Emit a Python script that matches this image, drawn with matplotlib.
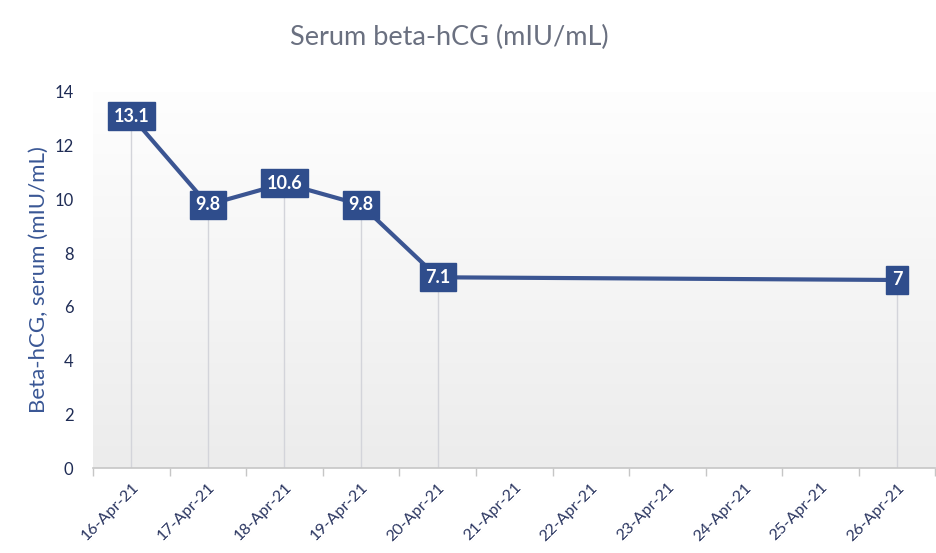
import numpy as np
import matplotlib
matplotlib.use('Agg')
import matplotlib.pyplot as plt

plt.rcParams['font.family'] = ['Lato', 'DejaVu Sans']

dates = ['16-Apr-21', '17-Apr-21', '18-Apr-21', '19-Apr-21', '20-Apr-21', '21-Apr-21',
         '22-Apr-21', '23-Apr-21', '24-Apr-21', '25-Apr-21', '26-Apr-21']
meas_idx = [0, 1, 2, 3, 4, 10]
hcg = [13.1, 9.8, 10.6, 9.8, 7.1, 7]
labels = ['13.1', '9.8', '10.6', '9.8', '7.1', '7']

BLUE = '#2f4d8c'
LINE = '#3b5592'

fig = plt.figure(figsize=(9.36, 5.53), dpi=100)
fig.patch.set_facecolor('white')
ax = fig.add_axes([0.0994, 0.1537, 0.9, 0.68])

# light vertical gradient in the plot area
grad = np.linspace(0, 1, 256).reshape(-1, 1)
cmap = matplotlib.colors.LinearSegmentedColormap.from_list('bg', ['#ececec', '#fefefe'])
ax.imshow(grad, extent=[0, 1, 0, 1], transform=ax.transAxes, origin='lower',
          aspect='auto', cmap=cmap, zorder=0)

ax.vlines(meas_idx, 0, hcg, color='#d3d4da', lw=1, zorder=1)
ax.plot(meas_idx, hcg, color=LINE, lw=3, zorder=2)
for x, y, s in zip(meas_idx, hcg, labels):
    ax.text(x, y, s, ha='center', va='center', color='white', fontsize=13,
            fontweight='bold', zorder=3,
            bbox=dict(boxstyle='square,pad=0.3', fc=BLUE, ec=BLUE))

ax.set_xlim(-0.5, len(dates) - 0.5)
ax.set_ylim(0, 14)
ax.set_yticks(range(0, 15, 2))
ax.tick_params(axis='y', length=0, labelsize=12, labelcolor='#1f2c55', pad=14)

ax.set_xticks(np.arange(-0.5, len(dates), 1))
ax.set_xticklabels([])
ax.tick_params(axis='x', which='major', length=6, color='#c6c6c6', width=1)
ax.set_xticks(range(len(dates)), minor=True)
ax.set_xticklabels(dates, minor=True, rotation=45, ha='right', rotation_mode='anchor',
                   fontsize=11.5, color='#2a3560')
ax.tick_params(axis='x', which='minor', length=0, pad=9)

for side in ['top', 'right', 'left']:
    ax.spines[side].set_visible(False)
ax.spines['bottom'].set_color('#c6c6c6')
ax.spines['bottom'].set_linewidth(1.2)

ax.set_ylabel('Beta-hCG, serum (mIU/mL)', fontsize=16, color='#3a5795', labelpad=4)
fig.text(0.480, 0.932, 'Serum beta-hCG (mIU/mL)', ha='center', va='center',
         fontsize=19.5, color='#6a7080')

fig.savefig('out.png', dpi=100)
